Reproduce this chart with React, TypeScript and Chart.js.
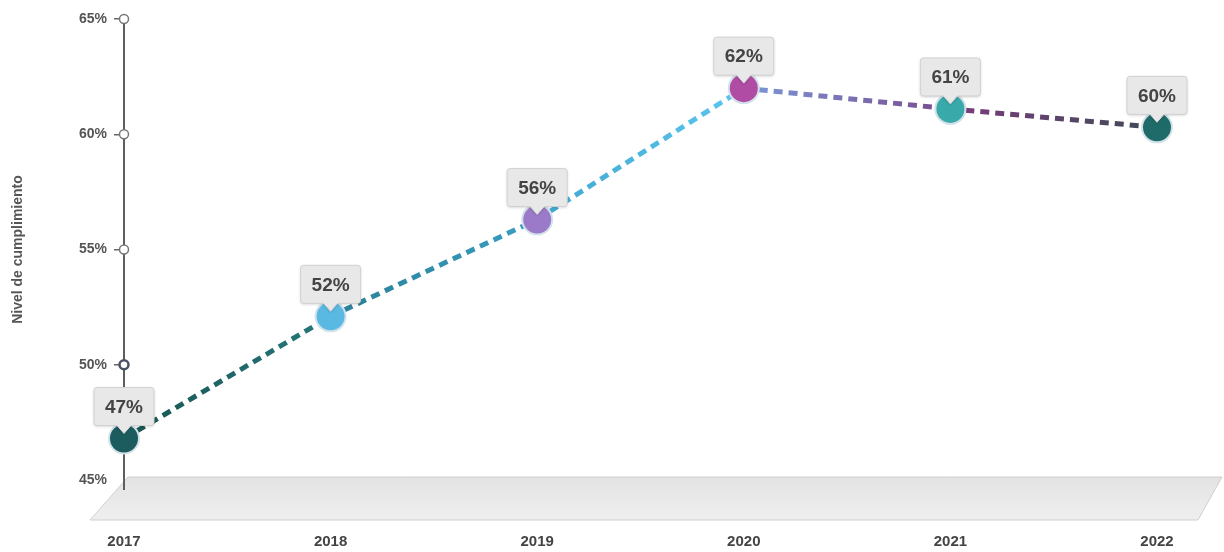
import React, { useEffect, useRef } from "react";
import { Chart, registerables } from "chart.js";
Chart.register(...registerables);

const years = ["2017", "2018", "2019", "2020", "2021", "2022"];
const compliance = [46.8, 52.1, 56.3, 62.0, 61.1, 60.3];
const yTickValues = [45, 50, 55, 60, 65];
const yTitle = "Nivel de cumplimiento";
const pointColors = ["#1d5c5e", "#5ab9e2", "#9b7bc9", "#b04ca4", "#3aa9aa", "#1f6b69"];
const segmentColors = [
  ["#17554f", "#27777c"],
  ["#2a7f96", "#3a9ec2"],
  ["#40a8d0", "#5cc6ee"],
  ["#7b98d8", "#7a4a8e"],
  ["#7b3b7c", "#3e4b57"],
];

const FONT = "'Liberation Sans', Arial, sans-serif";

export default function App() {
  const canvasRef = useRef<HTMLCanvasElement | null>(null);

  useEffect(() => {
    const canvas = canvasRef.current!;
    const c2d = canvas.getContext("2d")!;

    const floorPlugin = {
      id: "floor",
      beforeDraw(chart: any) {
        const { ctx, chartArea } = chart;
        const { left, right, bottom } = chartArea;
        ctx.save();
        const g = ctx.createLinearGradient(0, bottom - 3, 0, bottom + 40);
        g.addColorStop(0, "#e3e3e3");
        g.addColorStop(1, "#efefef");
        ctx.beginPath();
        ctx.moveTo(left + 4, bottom - 3);
        ctx.lineTo(right + 65, bottom - 3);
        ctx.lineTo(right + 41, bottom + 40);
        ctx.lineTo(left - 34, bottom + 40);
        ctx.closePath();
        ctx.fillStyle = g;
        ctx.fill();
        ctx.strokeStyle = "#cfcfcf";
        ctx.lineWidth = 1;
        ctx.stroke();
        ctx.restore();
      },
      beforeDatasetsDraw(chart: any) {
        const { ctx, chartArea } = chart;
        const yScale = chart.scales.y;
        ctx.save();
        ctx.strokeStyle = "#5e5e5e";
        ctx.lineWidth = 2;
        ctx.beginPath();
        ctx.moveTo(chartArea.left, chartArea.bottom);
        ctx.lineTo(chartArea.left, chartArea.bottom + 10);
        ctx.stroke();
        yScale.ticks.forEach((t: any) => {
          if (t.value === yScale.min) return;
          const y = yScale.getPixelForValue(t.value);
          ctx.beginPath();
          ctx.arc(chartArea.left, y, 4.5, 0, Math.PI * 2);
          ctx.fillStyle = "#ffffff";
          ctx.fill();
          const strong = t.value === 50;
          ctx.strokeStyle = strong ? "#4a5262" : "#777777";
          ctx.lineWidth = strong ? 2.5 : 1.5;
          ctx.stroke();
        });
        ctx.restore();
      },
      afterDatasetsDraw(chart: any) {
        const { ctx } = chart;
        const meta = chart.getDatasetMeta(0);
        const data = chart.data.datasets[0].data as number[];
        ctx.save();
        meta.data.forEach((pt: any, i: number) => {
          const x = pt.x;
          const y = pt.y;
          const w = 60;
          const h = 38;
          const bx = x - w / 2;
          const by = y - 13 - h;
          ctx.shadowColor = "rgba(0,0,0,0.2)";
          ctx.shadowBlur = 3;
          ctx.shadowOffsetY = 1;
          ctx.beginPath();
          ctx.moveTo(bx + 3, by);
          ctx.lineTo(bx + w - 3, by);
          ctx.quadraticCurveTo(bx + w, by, bx + w, by + 3);
          ctx.lineTo(bx + w, by + h - 3);
          ctx.quadraticCurveTo(bx + w, by + h, bx + w - 3, by + h);
          ctx.lineTo(x + 7, by + h);
          ctx.lineTo(x, by + h + 8);
          ctx.lineTo(x - 7, by + h);
          ctx.lineTo(bx + 3, by + h);
          ctx.quadraticCurveTo(bx, by + h, bx, by + h - 3);
          ctx.lineTo(bx, by + 3);
          ctx.quadraticCurveTo(bx, by, bx + 3, by);
          ctx.closePath();
          ctx.fillStyle = "#e8e8e8";
          ctx.fill();
          ctx.shadowColor = "transparent";
          ctx.strokeStyle = "#d2d2d2";
          ctx.lineWidth = 1;
          ctx.stroke();
          ctx.fillStyle = "#444444";
          ctx.font = `bold 19px ${FONT}`;
          ctx.textAlign = "center";
          ctx.textBaseline = "middle";
          ctx.fillText(`${Math.round(data[i])}%`, x, by + h / 2 + 1);
        });
        ctx.restore();
      },
    };

    const chart = new Chart(canvas, {
      type: "line",
      data: {
        labels: years,
        datasets: [
          {
            data: compliance,
            borderWidth: 5,
            borderDash: [9, 6],
            borderCapStyle: "butt",
            tension: 0,
            fill: false,
            clip: false as any,
            pointRadius: 15,
            pointHoverRadius: 15,
            pointBackgroundColor: pointColors,
            pointBorderColor: "#d3e2ea",
            pointBorderWidth: 2,
            segment: {
              borderColor: (sc: any) => {
                const cols = segmentColors[sc.p0DataIndex] || ["#555", "#555"];
                const g = c2d.createLinearGradient(sc.p0.x, sc.p0.y, sc.p1.x, sc.p1.y);
                g.addColorStop(0, cols[0]);
                g.addColorStop(1, cols[1]);
                return g;
              },
            },
          },
        ],
      },
      options: {
        animation: false,
        responsive: true,
        maintainAspectRatio: false,
        events: [],
        layout: { padding: { top: 19, right: 67, left: 0, bottom: 0 } },
        plugins: {
          legend: { display: false },
          tooltip: { enabled: false },
        },
        scales: {
          x: {
            type: "category",
            offset: false,
            grid: { display: false },
            border: { display: false },
            ticks: {
              padding: 45,
              color: "#444444",
              font: { family: FONT, size: 15, weight: "bold" },
            },
            afterFit: (s: any) => {
              s.height = 72;
            },
          },
          y: {
            type: "linear",
            min: 45,
            max: 65,
            afterBuildTicks: (s: any) => {
              s.ticks = yTickValues.map((v) => ({ value: v }));
            },
            ticks: {
              padding: 7,
              color: "#555555",
              font: { family: FONT, size: 14, weight: "bold" },
              callback: (v: any) => `${v}%`,
            },
            grid: {
              display: true,
              drawOnChartArea: false,
              drawTicks: true,
              tickLength: 10,
              lineWidth: 1.5,
              color: (c: any) => (c.tick && c.tick.value === 45 ? "rgba(0,0,0,0)" : "#666666"),
            },
            border: { display: true, color: "#5e5e5e", width: 2 },
            title: {
              display: true,
              text: yTitle,
              color: "#555555",
              font: { family: FONT, size: 14, weight: "bold" },
              padding: { top: 10, bottom: 0 },
            },
            afterFit: (s: any) => {
              s.width = 124;
            },
          },
        },
      },
      plugins: [floorPlugin],
    });

    return () => chart.destroy();
  }, []);

  return (
    <div style={{ position: "fixed", left: 0, top: 0, width: 1224, height: 552, background: "#ffffff" }}>
      <canvas ref={canvasRef} />
    </div>
  );
}
